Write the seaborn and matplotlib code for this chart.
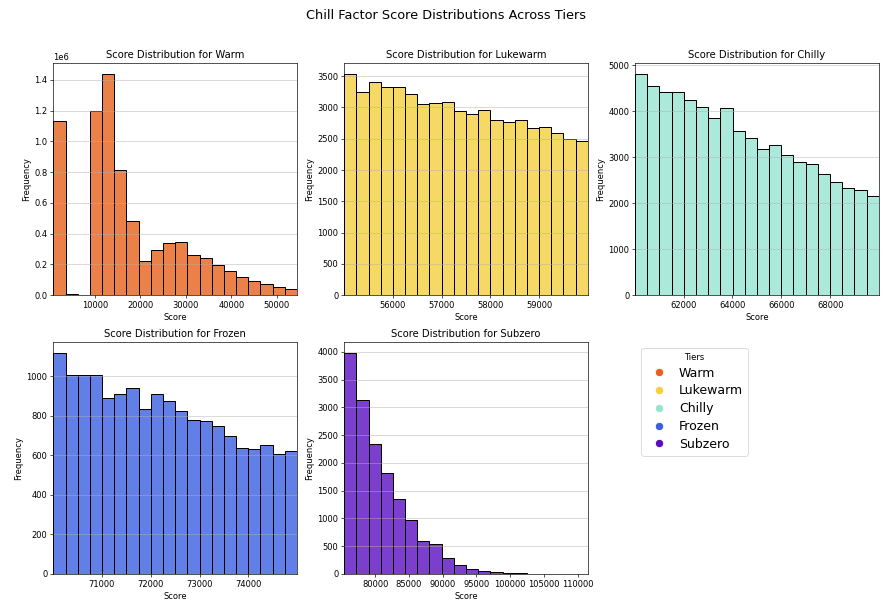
import numpy as np
import matplotlib
matplotlib.use("Agg")
import matplotlib.pyplot as plt
import seaborn as sns
from matplotlib.lines import Line2D

# tiers and their colours
tiers = ["Warm", "Lukewarm", "Chilly", "Frozen", "Subzero"]
colors = ["#E8601C", "#F4D03F", "#96E5D1", "#3A5FE0", "#5B0EC0"]

# score range covered by the 20 bins of each tier
score_lo = [850, 55005, 60010, 70008, 75420]
score_hi = [54400, 59995, 69990, 74995, 111480]
N_BINS = 20

# bin counts
warm_counts = [1131000, 9000, 0, 1196000, 1437000, 813000, 481000, 223000, 295000, 340000,
               345000, 262000, 243000, 197000, 158000, 121000, 93000, 72000, 56000, 41000]
lukewarm_counts = [3532, 3239, 3410, 3330, 3330, 3213, 3047, 3074, 3079, 2946,
                   2893, 2962, 2792, 2770, 2802, 2669, 2685, 2584, 2488, 2461]
chilly_counts = [4811, 4550, 4412, 4427, 4253, 4100, 3861, 4064, 3570, 3411,
                 3186, 3273, 3055, 2903, 2852, 2627, 2467, 2329, 2300, 2148]
frozen_counts = [1118, 1005, 1005, 1005, 889, 910, 941, 836, 910, 873,
                 823, 780, 774, 748, 699, 635, 632, 652, 605, 622]
subzero_counts = [3982, 3134, 2340, 1817, 1353, 968, 595, 541, 295, 156,
                  90, 48, 30, 18, 10, 5, 3, 2, 1, 1]

all_counts = [warm_counts, lukewarm_counts, chilly_counts, frozen_counts, subzero_counts]

fig, axes = plt.subplots(2, 3, figsize=(892 / 60, 611 / 60), dpi=60)
axes = axes.flatten()

for i, tier in enumerate(tiers):
    ax = axes[i]
    edges = np.linspace(score_lo[i], score_hi[i], N_BINS + 1)
    centers = (edges[:-1] + edges[1:]) / 2
    sns.histplot(x=centers, weights=all_counts[i], bins=N_BINS,
                 binrange=(score_lo[i], score_hi[i]),
                 color=colors[i], edgecolor="black", linewidth=1.2,
                 alpha=0.8, ax=ax)
    ax.set_xlim(score_lo[i], score_hi[i])
    ax.set_title(f"Score Distribution for {tier}")
    ax.set_xlabel("Score")
    ax.set_ylabel("Frequency")
    ax.grid(axis="y", alpha=0.7)

axes[5].axis("off")
handles = [Line2D([0], [0], marker="o", color="w", markerfacecolor=c,
                  markersize=10, label=t) for t, c in zip(tiers, colors)]
axes[5].legend(handles=handles, title="Tiers", loc="upper left", fontsize=15,
               labelspacing=0.38, handletextpad=0.6)

fig.suptitle("Chill Factor Score Distributions Across Tiers", fontsize=15.5, y=0.985)
plt.subplots_adjust(left=0.0598, right=0.9851, bottom=0.0606, top=0.8969,
                    wspace=0.194, hspace=0.2)

plt.savefig("out.png", dpi=60)
